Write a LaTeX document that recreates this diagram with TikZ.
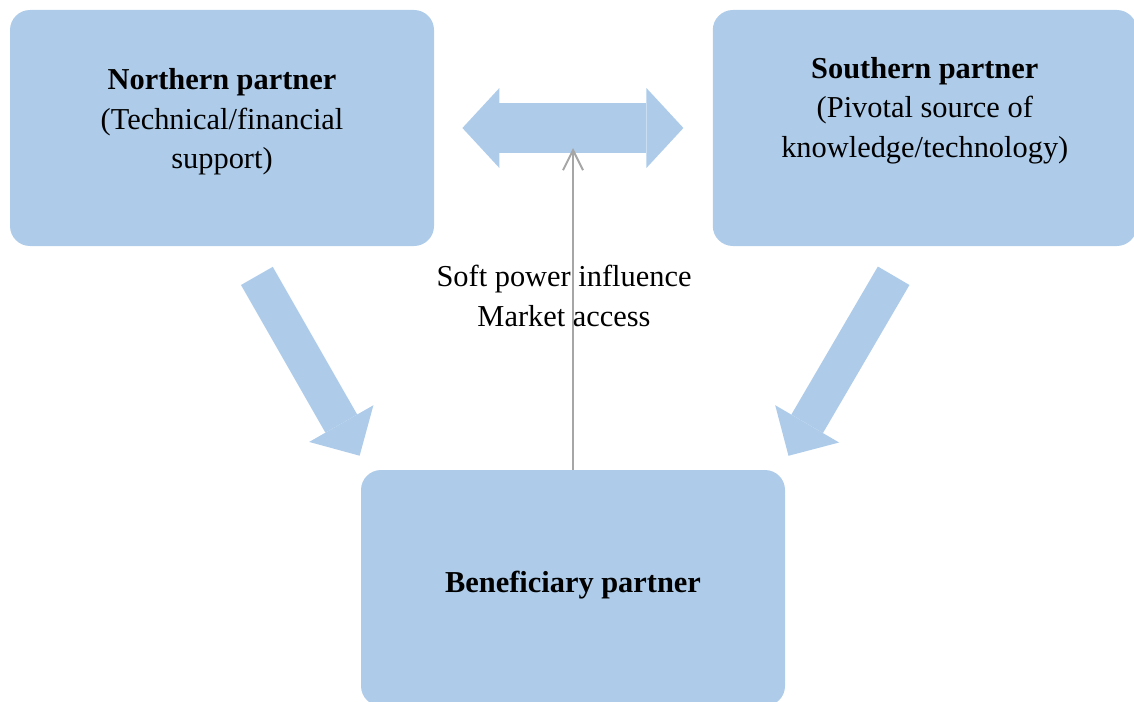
\documentclass[tikz,border=0pt]{standalone}
\usepackage{fontspec}
\setmainfont{Liberation Serif}
\usetikzlibrary{positioning,arrows.meta}

\definecolor{partnerblue}{RGB}{174,204,234}
\definecolor{linkgray}{RGB}{166,166,166}

\begin{document}
\begin{tikzpicture}[
  x=0.5pt, y=-0.5pt,
  font=\fontsize{15.2}{19.75}\selectfont,
  box/.style={fill=partnerblue, rounded corners=10pt, align=center, minimum width=212pt, minimum height=118pt, inner sep=0pt},
  fat/.style={draw=partnerblue, line width=18.3pt, -{Triangle[length=18.5pt, width=37pt, line width=0pt]}},
  fatboth/.style={draw=partnerblue, line width=25pt, {Triangle[length=18.5pt, width=40pt, line width=0pt]}-{Triangle[length=18.5pt, width=40pt, line width=0pt]}},
  link/.style={draw=linkgray, line width=1pt, -{Straight Barb[length=10pt, width=10pt]}}
]
\useasboundingbox (0,0) rectangle (1134,701);

\node[box, text depth=9.5pt] (north) at (222,128) {\textbf{Northern partner}\\(Technical/financial\\support)};
\node[box, right=139pt of north, text depth=21pt] (south) {\textbf{Southern partner}\\(Pivotal source of\\knowledge/technology)};
\node[box, text depth=6pt] (benef) at (573,588) {\textbf{Beneficiary partner}};

\draw[fatboth, shorten <=14pt, shorten >=14.5pt] (north) -- (south);
\draw[fat, shorten <=17pt, shorten >=8pt] ([xshift=9pt]north.south) -- ([xshift=3.5pt]benef.north west);
\draw[fat, shorten <=17pt, shorten >=8pt] ([xshift=-7pt]south.south) -- ([xshift=-2.5pt]benef.north east);

\draw[link] (benef.north) -- ([yshift=-10pt]benef.north |- north.east)
  node[pos=0.54, xshift=-4.5pt, align=center, inner sep=0pt]{Soft power influence\\Market access};
\end{tikzpicture}
\end{document}
